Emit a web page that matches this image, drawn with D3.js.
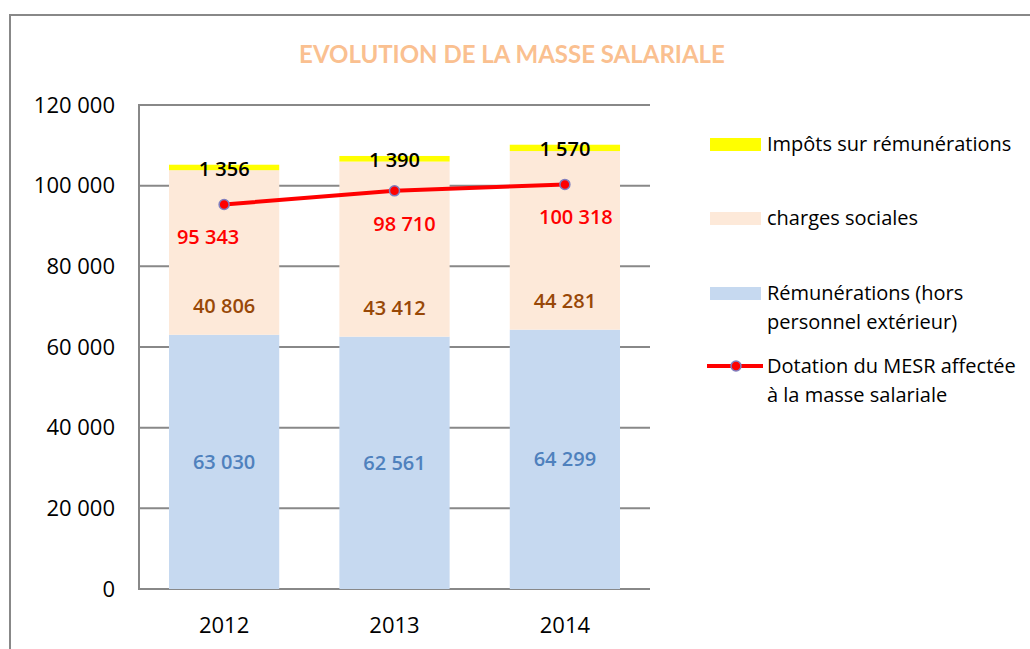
<!DOCTYPE html>
<html>
<head>
<meta charset="utf-8">
<script src="https://cdn.jsdelivr.net/npm/d3@7"></script>
<style>
  html, body { margin: 0; padding: 0; background: #fff; }
  svg { display: block; font-family: "Open Sans", Lato, sans-serif; }
</style>
</head>
<body>
<svg id="chart" width="1030" height="649"></svg>
<script>
// Stacked payroll bars (2012-2014) with the MESR allocation as a red line.
var years = ["2012", "2013", "2014"];
var remunerations = [63030, 62561, 64299];
var charges = [40806, 43412, 44281];
var impots = [1356, 1390, 1570];
var dotation = [95343, 98710, 100318];
var yTicks = [0, 20000, 40000, 60000, 80000, 100000, 120000];
var dotationDx = [-16, 10, 11];

var svg = d3.select("#chart");
var M = { left: 139, top: 105, right: 650, bottom: 589 };

var x = d3.scaleBand().domain(years).range([M.left, M.right]).paddingInner(0.353).paddingOuter(0.176);
var y = d3.scaleLinear().domain([0, 120000]).range([M.bottom, M.top]);
var fmt = function (v) { return d3.format(",")(v).replace(/,/g, "\u00a0"); };

// outer chart frame (right/bottom edges fall outside the window)
svg.append("path").attr("d", "M10,660V15H1040")
  .attr("fill", "none").attr("stroke", "#888").attr("stroke-width", 2);

svg.append("text").attr("x", 512).attr("y", 63).attr("text-anchor", "middle")
  .attr("font-family", "Lato, sans-serif")
  .attr("font-size", 24).attr("font-weight", "bold").attr("fill", "#fac090")
  .text("EVOLUTION DE LA MASSE SALARIALE");

// grid lines
svg.append("g").selectAll("line").data(yTicks).join("line")
  .attr("x1", M.left).attr("x2", M.right)
  .attr("y1", function (d) { return y(d); }).attr("y2", function (d) { return y(d); })
  .attr("stroke", "#888").attr("stroke-width", 2);

svg.append("line").attr("x1", M.left).attr("x2", M.left)
  .attr("y1", M.top - 1).attr("y2", M.bottom + 1)
  .attr("stroke", "#888").attr("stroke-width", 2);

svg.append("g").selectAll("text").data(yTicks).join("text")
  .attr("x", 115).attr("y", function (d) { return y(d); }).attr("dy", "0.35em")
  .attr("text-anchor", "end").attr("font-size", 22).attr("fill", "#000")
  .text(fmt);

svg.append("g").selectAll("text").data(years).join("text")
  .attr("x", function (d) { return x(d) + x.bandwidth() / 2; }).attr("y", 625).attr("dy", "0.35em")
  .attr("text-anchor", "middle").attr("font-size", 22).attr("fill", "#000")
  .text(function (d) { return d; });

// stacked bars
var rows = years.map(function (yr, i) {
  return { year: yr, rem: remunerations[i], ch: charges[i], imp: impots[i] };
});
var stack = d3.stack().keys(["rem", "ch", "imp"])(rows);
var colours = { rem: "#c6d9f0", ch: "#fde9d9", imp: "#ffff00" };

svg.append("g").selectAll("g").data(stack).join("g")
  .attr("fill", function (s) { return colours[s.key]; })
  .selectAll("rect").data(function (s) { return s; }).join("rect")
  .attr("x", function (d) { return x(d.data.year); })
  .attr("width", x.bandwidth())
  .attr("y", function (d) { return y(d[1]); })
  .attr("height", function (d) { return y(d[0]) - y(d[1]); });

var cx = function (i) { return x(years[i]) + x.bandwidth() / 2; };

// bar labels
var labels = svg.append("g").attr("font-size", 20).attr("font-weight", 600).attr("text-anchor", "middle");

labels.append("g").selectAll("text").data(stack[0]).join("text")
  .attr("x", function (d, i) { return cx(i); })
  .attr("y", function (d) { return y((d[0] + d[1]) / 2); }).attr("dy", "0.35em")
  .attr("fill", "#4f81bd")
  .text(function (d) { return fmt(d.data.rem); });

labels.append("g").selectAll("text").data(stack[1]).join("text")
  .attr("x", function (d, i) { return cx(i); })
  .attr("y", function (d) { return y(d[0]) - 29; }).attr("dy", "0.35em")
  .attr("fill", "#984807")
  .text(function (d) { return fmt(d.data.ch); });

labels.append("g").selectAll("text").data(stack[2]).join("text")
  .attr("x", function (d, i) { return cx(i); })
  .attr("y", function (d) { return y(d[1]) + 4; }).attr("dy", "0.35em")
  .attr("fill", "#000")
  .text(function (d) { return fmt(d.data.imp); });

// dotation line
var line = d3.line().x(function (d, i) { return cx(i); }).y(function (d) { return y(d); });
svg.append("path").datum(dotation).attr("d", line)
  .attr("fill", "none").attr("stroke", "#ff0000").attr("stroke-width", 4);
svg.append("g").selectAll("circle").data(dotation).join("circle")
  .attr("cx", function (d, i) { return cx(i); }).attr("cy", function (d) { return y(d); })
  .attr("r", 5).attr("fill", "#ff0000").attr("stroke", "#7f7fc0").attr("stroke-width", 1.5);
labels.append("g").selectAll("text").data(dotation).join("text")
  .attr("x", function (d, i) { return cx(i) + dotationDx[i]; })
  .attr("y", function (d) { return y(d) + 33; }).attr("dy", "0.35em")
  .attr("fill", "#ff0000")
  .text(fmt);

// legend
var legend = svg.append("g").attr("font-size", 20).attr("fill", "#000");
var legendItems = [
  { type: "rect", colour: "#ffff00", y: 144, lines: ["Impôts sur rémunérations"] },
  { type: "rect", colour: "#fde9d9", y: 218, lines: ["charges sociales"] },
  { type: "rect", colour: "#c6d9f0", y: 293, lines: ["Rémunérations (hors", "personnel extérieur)"] },
  { type: "line", colour: "#ff0000", y: 366, lines: ["Dotation du MESR affectée", "à la masse salariale"] }
];
legendItems.forEach(function (it) {
  if (it.type === "rect") {
    legend.append("rect").attr("x", 710).attr("y", it.y - 6).attr("width", 51).attr("height", 13)
      .attr("fill", it.colour);
  } else {
    legend.append("line").attr("x1", 707).attr("x2", 763).attr("y1", it.y).attr("y2", it.y)
      .attr("stroke", it.colour).attr("stroke-width", 4);
    legend.append("circle").attr("cx", 736).attr("cy", it.y).attr("r", 5)
      .attr("fill", it.colour).attr("stroke", "#7f7fc0").attr("stroke-width", 1.5);
  }
  it.lines.forEach(function (t, k) {
    legend.append("text").attr("x", 767).attr("y", it.y + k * 29).attr("dy", "0.35em").text(t);
  });
});
</script>
</body>
</html>
